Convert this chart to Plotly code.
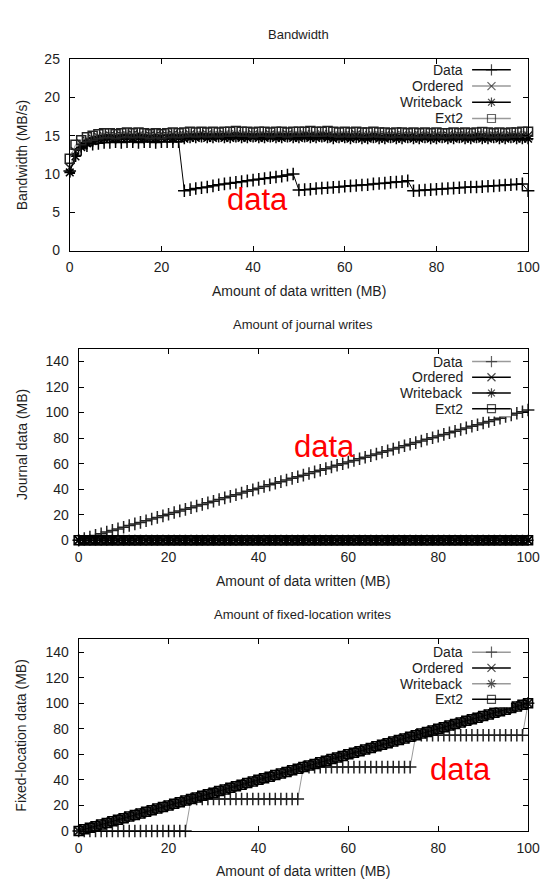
import plotly.graph_objects as go

# ---------------- data ----------------
mb_written = [0, 1.25, 2.5, 3.75, 5, 6.25, 7.5, 8.75, 10, 11.25,
              12.5, 13.75, 15, 16.25, 17.5, 18.75, 20, 21.25, 22.5, 23.75,
              25, 26.25, 27.5, 28.75, 30, 31.25, 32.5, 33.75, 35, 36.25,
              37.5, 38.75, 40, 41.25, 42.5, 43.75, 45, 46.25, 47.5, 48.75,
              50, 51.25, 52.5, 53.75, 55, 56.25, 57.5, 58.75, 60, 61.25,
              62.5, 63.75, 65, 66.25, 67.5, 68.75, 70, 71.25, 72.5, 73.75,
              75, 76.25, 77.5, 78.75, 80, 81.25, 82.5, 83.75, 85, 86.25,
              87.5, 88.75, 90, 91.25, 92.5, 93.75, 95, 96.25, 97.5, 98.75,
              100]

series_names = ["Data", "Ordered", "Writeback", "Ext2"]

bw_data = [10.4, 12.4, 13.3, 13.7, 13.9, 14.0, 14.1, 14.1, 14.2, 14.1,
           14.2, 14.2, 14.1, 14.2, 14.2, 14.1, 14.2, 14.2, 14.2, 14.2,
           7.8, 7.95, 8.1, 8.2, 8.3, 8.45, 8.6, 8.7, 8.8, 8.9,
           9.0, 9.1, 9.2, 9.3, 9.4, 9.5, 9.6, 9.7, 9.85, 10.0,
           7.9, 7.95, 8.0, 8.1, 8.15, 8.2, 8.25, 8.3, 8.4, 8.45,
           8.5, 8.55, 8.6, 8.7, 8.75, 8.8, 8.9, 8.95, 9.0, 9.1,
           7.8, 7.85, 7.9, 7.95, 8.0, 8.05, 8.1, 8.15, 8.2, 8.25,
           8.3, 8.3, 8.35, 8.4, 8.45, 8.5, 8.55, 8.6, 8.65, 8.7,
           7.8]
bw_ordered = [10.8, 12.9, 13.9, 14.3, 14.6, 14.8, 14.9, 15.0, 14.9, 15.0,
              15.0, 15.1, 15.0, 14.9, 15.0, 15.0, 14.9, 15.0, 15.1, 15.0,
              15.0, 15.1, 15.0, 15.0, 15.1, 15.0, 15.0, 15.1, 15.0, 15.1,
              15.0, 15.0, 15.1, 15.0, 15.0, 15.1, 15.0, 15.0, 15.1, 15.0,
              15.0, 15.1, 15.0, 15.0, 15.1, 15.0, 15.0, 14.9, 15.0, 15.0,
              15.1, 15.0, 14.9, 15.0, 15.0, 15.0, 14.9, 15.0, 15.0, 14.9,
              15.0, 15.0, 14.9, 15.0, 15.0, 14.9, 15.0, 14.9, 15.0, 15.0,
              14.9, 15.0, 15.0, 14.9, 15.0, 15.0, 14.9, 15.0, 15.0, 14.9,
              15.0]
bw_writeback = [10.2, 12.3, 13.5, 14.0, 14.3, 14.5, 14.6, 14.7, 14.6, 14.7,
                14.7, 14.6, 14.7, 14.6, 14.7, 14.6, 14.7, 14.7, 14.6, 14.7,
                14.6, 14.7, 14.7, 14.8, 14.7, 14.7, 14.8, 14.7, 14.7, 14.8,
                14.7, 14.7, 14.8, 14.7, 14.7, 14.8, 14.7, 14.7, 14.8, 14.7,
                14.7, 14.8, 14.7, 14.7, 14.8, 14.7, 14.6, 14.7, 14.7, 14.6,
                14.7, 14.6, 14.6, 14.7, 14.6, 14.6, 14.7, 14.6, 14.6, 14.7,
                14.6, 14.6, 14.7, 14.6, 14.6, 14.7, 14.6, 14.6, 14.7, 14.6,
                14.6, 14.7, 14.6, 14.6, 14.7, 14.6, 14.6, 14.7, 14.6, 14.6,
                14.6]
bw_ext2 = [12.0, 13.8, 14.4, 14.8, 15.0, 15.2, 15.3, 15.3, 15.2, 15.3,
           15.4, 15.3, 15.4, 15.3, 15.2, 15.3, 15.2, 15.3, 15.4, 15.3,
           15.4, 15.5, 15.4, 15.5, 15.4, 15.5, 15.4, 15.5, 15.5, 15.6,
           15.5, 15.5, 15.4, 15.5, 15.5, 15.4, 15.5, 15.5, 15.4, 15.5,
           15.5, 15.5, 15.6, 15.5, 15.5, 15.6, 15.5, 15.4, 15.5, 15.4,
           15.5, 15.4, 15.4, 15.5, 15.4, 15.4, 15.3, 15.4, 15.4, 15.3,
           15.4, 15.3, 15.4, 15.3, 15.4, 15.3, 15.3, 15.4, 15.3, 15.4,
           15.3, 15.4, 15.5, 15.4, 15.3, 15.4, 15.3, 15.4, 15.4, 15.5,
           15.5]

journal_data = [0, 1.3, 2.6, 3.8, 5.1, 6.4, 7.7, 8.9, 10.2, 11.5,
                12.8, 14.0, 15.3, 16.6, 17.9, 19.1, 20.4, 21.7, 23.0, 24.2,
                25.5, 26.8, 28.1, 29.3, 30.6, 31.9, 33.2, 34.4, 35.7, 37.0,
                38.3, 39.5, 40.8, 42.1, 43.4, 44.6, 45.9, 47.2, 48.5, 49.7,
                51.0, 52.3, 53.6, 54.8, 56.1, 57.4, 58.7, 59.9, 61.2, 62.5,
                63.8, 65.0, 66.3, 67.6, 68.9, 70.1, 71.4, 72.7, 74.0, 75.2,
                76.5, 77.8, 79.1, 80.3, 81.6, 82.9, 84.2, 85.4, 86.7, 88.0,
                89.3, 90.5, 91.8, 93.1, 94.4, 95.6, 96.9, 98.2, 99.5, 100.7,
                102.0]
# Ordered, Writeback and Ext2 write nothing to the journal
journal_none = [0, 0, 0, 0, 0, 0, 0, 0, 0, 0,
                0, 0, 0, 0, 0, 0, 0, 0, 0, 0,
                0, 0, 0, 0, 0, 0, 0, 0, 0, 0,
                0, 0, 0, 0, 0, 0, 0, 0, 0, 0,
                0, 0, 0, 0, 0, 0, 0, 0, 0, 0,
                0, 0, 0, 0, 0, 0, 0, 0, 0, 0,
                0, 0, 0, 0, 0, 0, 0, 0, 0, 0,
                0, 0, 0, 0, 0, 0, 0, 0, 0, 0,
                0]
journal_ordered = journal_none
journal_writeback = journal_none
journal_ext2 = journal_none

fixed_data = [0, 0, 0, 0, 0, 0, 0, 0, 0, 0,
              0, 0, 0, 0, 0, 0, 0, 0, 0, 0,
              25, 25, 25, 25, 25, 25, 25, 25, 25, 25,
              25, 25, 25, 25, 25, 25, 25, 25, 25, 25,
              50, 50, 50, 50, 50, 50, 50, 50, 50, 50,
              50, 50, 50, 50, 50, 50, 50, 50, 50, 50,
              75, 75, 75, 75, 75, 75, 75, 75, 75, 75,
              75, 75, 75, 75, 75, 75, 75, 75, 75, 75,
              100]
# Ordered, Writeback and Ext2 write every block to its fixed location
fixed_direct = [0, 1.25, 2.5, 3.75, 5, 6.25, 7.5, 8.75, 10, 11.25,
                12.5, 13.75, 15, 16.25, 17.5, 18.75, 20, 21.25, 22.5, 23.75,
                25, 26.25, 27.5, 28.75, 30, 31.25, 32.5, 33.75, 35, 36.25,
                37.5, 38.75, 40, 41.25, 42.5, 43.75, 45, 46.25, 47.5, 48.75,
                50, 51.25, 52.5, 53.75, 55, 56.25, 57.5, 58.75, 60, 61.25,
                62.5, 63.75, 65, 66.25, 67.5, 68.75, 70, 71.25, 72.5, 73.75,
                75, 76.25, 77.5, 78.75, 80, 81.25, 82.5, 83.75, 85, 86.25,
                87.5, 88.75, 90, 91.25, 92.5, 93.75, 95, 96.25, 97.5, 98.75,
                100]
fixed_ordered = fixed_direct
fixed_writeback = fixed_direct
fixed_ext2 = fixed_direct

panel_titles = ["Bandwidth", "Amount of journal writes", "Amount of fixed-location writes"]
y_titles = ["Bandwidth (MB/s)", "Journal data (MB)", "Fixed-location data (MB)"]
x_title = "Amount of data written (MB)"
note_text = "data"
note_pos = [(41, 6.7), (54.7, 73.8), (84.9, 48.5)]

# ---------------- style ----------------
W, H = 553, 890
FONT = "Liberation Sans, Arial, sans-serif"
TXT = "#1e1e1e"
BLACK = "#000000"
GRAY_LINE = "#9a9a9a"
GRAY_MARK = "#222222"
symbols = ["cross-thin", "x-thin", "asterisk", "square-open"]
# per panel: which series use gray lines
gray_sets = [{1, 3}, {0}, {0, 2}]

panels = [
    dict(series=[bw_data, bw_ordered, bw_writeback, bw_ext2],
         frame=(67.7, 539.7, 52, 247), yrange=[0, 25], ytickvals=[0, 5, 10, 15, 20, 25],
         legend_rows=[63, 79.5, 96, 112.5]),
    dict(series=[journal_data, journal_ordered, journal_writeback, journal_ext2],
         frame=(76.9, 539.7, 347, 542), yrange=[0, 150], ytickvals=[0, 20, 40, 60, 80, 100, 120, 140],
         legend_rows=[360, 376, 392, 408]),
    dict(series=[fixed_data, fixed_ordered, fixed_writeback, fixed_ext2],
         frame=(76.9, 539.7, 643, 838), yrange=[0, 150], ytickvals=[0, 20, 40, 60, 80, 100, 120, 140],
         legend_rows=[656, 672, 688, 704]),
]

def px_x(p):
    return p / W

def px_y(p):
    return 1 - p / H

fig = go.Figure()
layout = dict(width=W, height=H, margin=dict(l=0, r=0, t=0, b=0),
              paper_bgcolor="white", plot_bgcolor="white", showlegend=False,
              font=dict(family=FONT, color=TXT, size=14))
annotations = []

axis_common = dict(showline=True, linecolor=BLACK, linewidth=1, mirror="ticks",
                   ticks="inside", ticklen=5, tickwidth=1, tickcolor=BLACK,
                   showgrid=False, zeroline=False, fixedrange=True,
                   tickfont=dict(family=FONT, size=14, color=TXT))

leg_sample = (482, 522)
leg_text_right = 475

for i, p in enumerate(panels):
    n = i + 1
    xa = "x" if n == 1 else f"x{n}"
    ya = "y" if n == 1 else f"y{n}"
    L, R, T, B = p["frame"]
    layout["xaxis" if n == 1 else f"xaxis{n}"] = dict(
        axis_common, domain=[px_x(L), px_x(R)], range=[0, 100],
        tickvals=[0, 20, 40, 60, 80, 100], anchor=ya, ticklabelstandoff=4)
    layout["yaxis" if n == 1 else f"yaxis{n}"] = dict(
        axis_common, domain=[px_y(B), px_y(T)], range=p["yrange"],
        tickvals=p["ytickvals"], anchor=xa, ticklabelstandoff=6)

    for k, (name, vals) in enumerate(zip(series_names, p["series"])):
        gray = k in gray_sets[i]
        lc = GRAY_LINE if gray else BLACK
        mc = GRAY_MARK if gray else BLACK
        fig.add_trace(go.Scatter(
            x=mb_written, y=vals, mode="lines+markers", name=name,
            xaxis=xa, yaxis=ya, cliponaxis=False,
            line=dict(color=lc, width=1),
            marker=dict(symbol=symbols[k], size=9, color=mc,
                        line=dict(color=mc, width=1.5))))

    # legend (gnuplot style: label on the left, sample on the right)
    ln = n + 3
    rows = p["legend_rows"]
    step = rows[1] - rows[0]
    layout[f"xaxis{ln}"] = dict(domain=[px_x(leg_sample[0]), px_x(leg_sample[1])],
                                range=[0, 1], visible=False, fixedrange=True,
                                anchor=f"y{ln}")
    layout[f"yaxis{ln}"] = dict(domain=[px_y(rows[-1] + step / 2), px_y(rows[0] - step / 2)],
                                range=[4, 0], visible=False, fixedrange=True,
                                anchor=f"x{ln}")
    for k, name in enumerate(series_names):
        gray = k in gray_sets[i]
        lc = GRAY_LINE if gray else BLACK
        mc = GRAY_MARK if gray else BLACK
        fig.add_trace(go.Scatter(
            x=[0, 0.5, 1], y=[k + 0.5] * 3, mode="lines+markers",
            xaxis=f"x{ln}", yaxis=f"y{ln}", hoverinfo="skip",
            line=dict(color=lc, width=1.5),
            marker=dict(symbol=symbols[k], size=[0, 8, 0], color=mc,
                        line=dict(color=mc, width=1.2))))
        annotations.append(dict(text=name, xref="paper", yref="paper",
                                x=px_x(leg_text_right), y=px_y(rows[k]),
                                xanchor="right", yanchor="middle", showarrow=False,
                                font=dict(family=FONT, size=14, color=TXT)))

    cx = px_x((L + R) / 2)
    annotations.append(dict(text=panel_titles[i], xref="paper", yref="paper",
                            x=cx, y=px_y(T - 25), xanchor="center", yanchor="middle",
                            showarrow=False, font=dict(family=FONT, size=13, color=TXT)))
    annotations.append(dict(text=x_title, xref="paper", yref="paper",
                            x=cx, y=px_y(B + 41), xanchor="center", yanchor="middle",
                            showarrow=False, font=dict(family=FONT, size=14, color=TXT)))
    annotations.append(dict(text=y_titles[i], xref="paper", yref="paper",
                            x=px_x(18), y=px_y((T + B) / 2), xanchor="center",
                            yanchor="middle", textangle=-90, showarrow=False,
                            font=dict(family=FONT, size=14, color=TXT)))
    nx, ny = note_pos[i]
    annotations.append(dict(text=note_text, xref=xa, yref=ya, x=nx, y=ny,
                            xanchor="center", yanchor="middle", showarrow=False,
                            font=dict(family=FONT, size=31, color="#ff0000")))

layout["annotations"] = annotations
fig.update_layout(**layout)
fig.write_html("out.html")
